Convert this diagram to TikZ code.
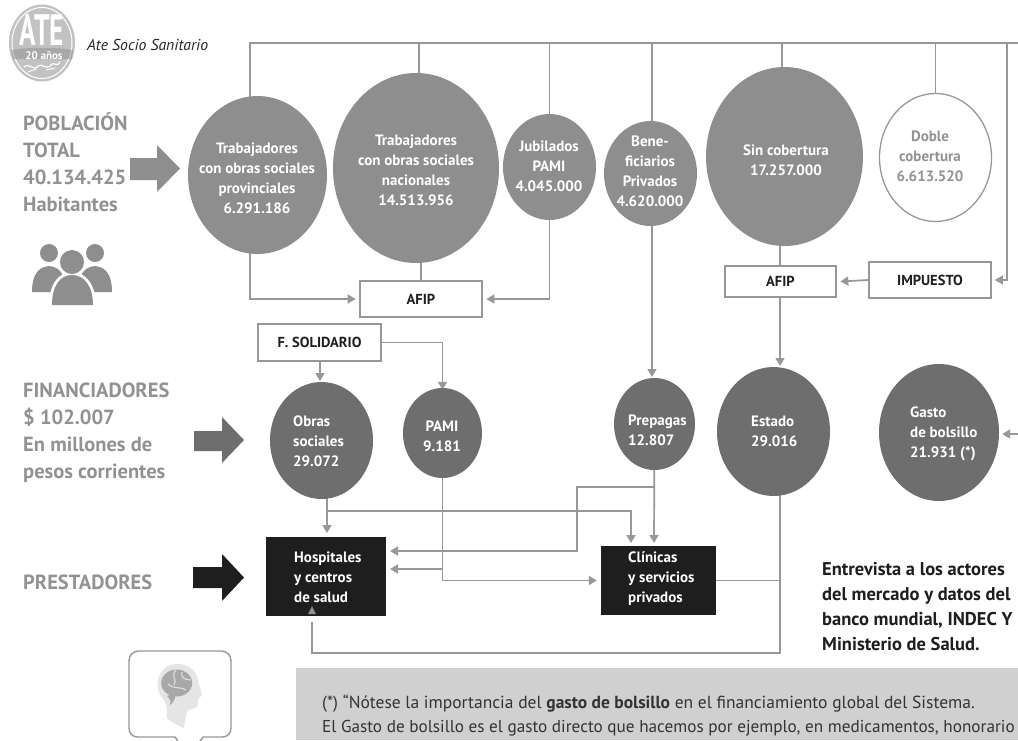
\documentclass[tikz,border=0pt]{standalone}
\usepackage{fontspec}
\setmainfont{PT Sans}
\usetikzlibrary{arrows.meta,shapes.geometric}
\pgfdeclarelayer{back}
\pgfsetlayers{back,main}
\definecolor{ln}{HTML}{989898}
\definecolor{c1}{HTML}{8E8E8E}
\definecolor{c2}{HTML}{6E6E6E}
\definecolor{tg}{HTML}{929292}
\definecolor{blk}{HTML}{1E1E1E}
\definecolor{panel}{HTML}{D0D0D0}
\definecolor{logo}{HTML}{C2C2C2}
\tikzset{
 x=1pt,y=-1pt,
 conn/.style={draw=ln,line width=1.7pt},
 arr/.style={conn,-{Triangle[length=8pt,width=9pt]}},
 bub/.style={ellipse,inner sep=0pt,fill=#1},
 wbox/.style={draw=ln,line width=1.7pt,fill=white,inner sep=0pt,font=\fontsize{14.5}{16}\bfseries\selectfont,text=blk},
 bbox/.style={fill=blk,inner sep=0pt},
 lbl/.style={align=center,inner sep=0pt,text=white,font=\fontsize{15}{20}\bfseries\selectfont},
 lbll/.style={lbl,align=left,anchor=west},
 side/.style={align=left,anchor=west,inner sep=0pt,text=tg,font=\fontsize{20.5}{27}\bfseries\selectfont},
 foot/.style={anchor=base west,inner sep=0pt,text=black!80,font=\fontsize{17.5}{24}\selectfont},
 foottwo/.style={foot,font=\fontsize{17.2}{24}\selectfont},
}
\newcommand{\bubble}[6]{\node[bub=#6,minimum width=#4pt,minimum height=#5pt] (#1) at (#2,#3) {};}
\begin{document}
\begin{tikzpicture}
\useasboundingbox (0,0) rectangle (1018,740);
% bubbles
\bubble{a}{257.5}{175}{139}{158}{c1}
\bubble{b}{416}{168}{166}{190}{c1}
\bubble{d}{549.5}{167}{93}{106}{c1}
\bubble{e}{650.5}{173.5}{93}{105}{c1}
\bubble{f}{784.5}{156.5}{157}{179}{c1}
\node[ellipse,draw=ln,line width=1.3pt,fill=white,inner sep=0pt,minimum width=112pt,minimum height=128pt] (g) at (935.5,157.5) {};
\bubble{os}{321.5}{440.5}{103}{117}{c2}
\bubble{pa}{442.5}{433}{79}{90}{c2}
\bubble{pr}{654.5}{424}{81}{92}{c2}
\bubble{es}{773.5}{431.5}{113}{129}{c2}
\bubble{ga}{939}{432.5}{120}{137}{c2}
% boxes
\node[wbox,minimum width=122pt,minimum height=36pt] (af1) at (421,299) {AFIP};
\node[wbox,minimum width=111pt,minimum height=31pt] (af2) at (780.5,281.5) {AFIP};
\node[wbox,minimum width=122pt,minimum height=36pt] (im) at (930,280) {IMPUESTO};
\node[wbox,minimum width=123pt,minimum height=37pt] (fs) at (319.5,342.5) {F. SOLIDARIO};
\node[bbox,minimum width=120pt,minimum height=79pt] (ho) at (326,576.5) {};
\node[bbox,minimum width=115pt,minimum height=69pt] (cl) at (658.5,580.5) {};
% free ends
\coordinate (r0) at (250,43);
\coordinate (r1) at (1018,43);
\coordinate (gr) at (1018,434);
\coordinate (st) at (312,622);
\coordinate (rb) at (419,43);
\coordinate (re) at (652,43);
\coordinate (rf) at (782,43);
\coordinate (rr) at (1007,43);
\coordinate (vs) at (780,653);
\coordinate (j1) at (327,511);
\coordinate (j2) at (631,543);
\coordinate (j3) at (443,569);
\coordinate (j4) at (654,487);
\coordinate (j5) at (577,551);
\coordinate (pb) at (654,543);
\coordinate (ob) at (327,533);
\coordinate (hb) at (390,569);
\coordinate (hc) at (390,551);
\coordinate (et) at (780,366);
\coordinate (pt) at (652,377);
\coordinate (ot) at (320,381);
\begin{pgfonlayer}{back}
\fill[white] (0,0) rectangle (1018,740);
\draw[conn] (r0 |- a.center) -- (r0) -- (r1);
\draw[conn] (rb |- b.center) -- (rb);
\draw[conn] (d.center) -- (d.center |- r0);
\draw[conn] (re |- e.center) -- (re);
\draw[conn] (rf |- f.center) -- (rf);
\draw[conn] (g.north) -- (g.north |- r0);
\draw[arr] (rr) |- ([xshift=3pt]im.east);
\draw[arr] (im.west) -- ([xshift=3.5pt]af2.east);
\draw[arr] (r0 |- a.center) |- ([xshift=-3.5pt]af1.west);
\draw[conn] (b.center -| af1.north) -- (af1.north);
\draw[arr] (d.center) |- ([xshift=3.5pt]af1.east);
\draw[conn] (f.center -| et) -- (et |- af2.north);
\draw[arr] (et |- af2.south) -- (et);
\draw[arr] (re |- e.center) -- (pt);
\draw[arr] (ot |- fs.south) -- (ot);
\draw[arr] (fs.east) -| ([yshift=-2pt]pa.north);
\draw[arr] (ob |- os.center) -- (ob);
\draw[arr] (j1) -| (j2);
\draw[arr] (pa.center) |- ([xshift=-4pt]cl.west);
\draw[arr] (j3) -- (hb);
\draw[arr] (pr.center) -- (pb);
\draw[arr] (j4) -| (j5) -- (hc);
\draw[conn] (cl.east) -- (vs |- cl.east);
\draw[conn] (vs |- es.center) -- (vs) -| (st);
\draw[arr] (gr) -- ([xshift=3pt]gr -| ga.east);
\end{pgfonlayer}
\fill[c1] (312,606) -- (308,614) -- (316,614) -- cycle;
% bubble text
\node[lbl] (ta) at (257,178) {Trabajadores\\con obras sociales\\provinciales\\6.291.186};
\node[lbl] (tb) at (416,170) {Trabajadores\\con obras sociales\\nacionales\\14.513.956};
\node[lbl] (td) at (549,166) {Jubilados\\PAMI\\4.045.000};
\node[lbl] (te) at (650,171) {Bene-\\ficiarios\\Privados\\4.620.000};
\node[lbl] (tf) at (786,160) {Sin cobertura\\17.257.000};
\node[lbl,text=tg] (tg1) at (930,156) {Doble\\cobertura\\6.613.520};
\node[lbll] (tos) at (293,441) {Obras\\sociales\\29.072};
\node[lbl] (tpa) at (442,436) {PAMI\\9.181};
\node[lbll] (tpr) at (628,430) {Prepagas\\12.807};
\node[lbll] (tes) at (751,431) {Estado\\29.016};
\node[lbll] (tga) at (910,434) {Gasto\\de bolsillo\\21.931 (*)};
\node[lbll] (tho) at (294,577) {Hospitales\\y centros\\de salud};
\node[lbll] (tcl) at (628,579) {Clínicas\\y servicios\\privados};
% side labels
\node[side] (s1) at (23,162) {POBLACIÓN\\TOTAL\\40.134.425\\Habitantes};
\node[side] (s2) at (23,433) {FINANCIADORES\\\$ 102.007\\En millones de\\pesos corrientes};
\node[side] (s3) at (23,582) {PRESTADORES};
% big arrows
\fill[c1] (130,158) -- (157,158) -- (157,145) -- (180,168.5) -- (157,192) -- (157,180) -- (130,180) -- cycle;
\fill[c2] (194,431) -- (222,431) -- (222,417) -- (244,440) -- (222,463) -- (222,451) -- (194,451) -- cycle;
\fill[blk] (193,567) -- (222,567) -- (222,554) -- (244,577.5) -- (222,601) -- (222,588) -- (193,588) -- cycle;
% note
\node[align=left,anchor=west,inner sep=0pt,text=blk,font=\fontsize{18.5}{25}\bfseries\selectfont] (nt) at (822,607) {Entrevista a los actores\\del mercado y datos del\\banco mundial, INDEC Y\\Ministerio de Salud.};
% footnote
\fill[panel] (296,668) rectangle (1018,740);
\node[foot] (f1) at (322,708) {(*) “Nótese la importancia del \textbf{gasto de bolsillo} en el financiamiento global del Sistema.};
\node[foottwo] (f2) at (322,732) {El Gasto de bolsillo es el gasto directo que hacemos por ejemplo, en medicamentos, honorario};
% title + logo
\node[anchor=west,inner sep=0pt,font=\fontsize{15.7}{18}\itshape\selectfont,text=black!85] (ti) at (87,45) {Ate Socio Sanitario};
\fill[logo] (42,43) ellipse (33 and 38.5);
\draw[white,line width=1pt] (42,43) ellipse (30 and 35.5);
\fill[black!42,opacity=.55] (11,50) .. controls (30,47) and (55,47) .. (73,50) -- (72,59) -- (13,59) -- cycle;
\node[inner sep=0pt,text=white,xscale=.62,font=\fontsize{44}{44}\bfseries\selectfont] (la) at (42,30) {ATE};
\node[inner sep=0pt,text=white,font=\fontsize{11}{11}\bfseries\selectfont] (lb) at (44,55.5) {20 años};
\draw[white,line width=1.2pt,line cap=round] (24,67) .. controls (30,62) and (33,72) .. (38,66) .. controls (42,62) and (46,72) .. (52,64) .. controls (55,62) and (56,68) .. (60,62);
\draw[white,line width=1pt,line cap=round] (28,72) -- (36,69) (46,70) -- (55,68);
% people
\fill[c1] (49,253) circle (9) (95,253) circle (9);
\fill[c1] (32,292) .. controls (32,275) and (38,267) .. (49,266) .. controls (60,267) and (66,275) .. (66,292) -- cycle;
\fill[c1] (78,292) .. controls (78,275) and (84,267) .. (95,266) .. controls (106,267) and (112,275) .. (112,292) -- cycle;
\fill[white] (72,262) circle (14);
\fill[white] (49,306) .. controls (49,285) and (58,272) .. (72,272) .. controls (86,272) and (96,285) .. (96,306) -- cycle;
\fill[c1] (72,262) circle (12);
\fill[c1] (52,305) .. controls (52,286) and (60,275) .. (72,275) .. controls (84,275) and (93,286) .. (93,305) -- cycle;
% brain icon
\draw[ln,line width=1.4pt,line join=round] (178,741) -- (175,737) -- (138,737) .. controls (132,737) and (129,733) .. (129,728) -- (129,661) .. controls (129,655) and (133,651) .. (139,651) -- (221,651) .. controls (227,651) and (231,655) .. (231,661) -- (231,728) .. controls (231,733) and (228,737) .. (222,737) -- (203,737) -- (200,741);
\fill[black!10] (176.7,664) .. controls (188,664) and (196,670) .. (198,680) .. controls (199,686) and (201,690) .. (202,695) -- (198,699) .. controls (199,705) and (197,709) .. (192,709) .. controls (187,709) and (186,712) .. (184,728) .. controls (178,726) and (172,722) .. (166.7,718) .. controls (168,710) and (167,705) .. (163,699) .. controls (157,692) and (156,682) .. (160,674) .. controls (164,667) and (170,664) .. (176.7,664) -- cycle;
\fill[black!34] (176.7,683) ellipse (15.5 and 13.5);
\draw[black!10,line width=1pt] (176,670) .. controls (170,676) and (178,680) .. (174,685) (168,684) .. controls (175,690) and (180,686) .. (186,690) (182,672) .. controls (180,678) and (186,680) .. (191,680);
\fill[black!34] (167,696) .. controls (172,693) and (176,695) .. (175,698) .. controls (174,701) and (172,704) .. (170,705) .. controls (171,702) and (171,700) .. (167,696) -- cycle;
\end{tikzpicture}
\end{document}
